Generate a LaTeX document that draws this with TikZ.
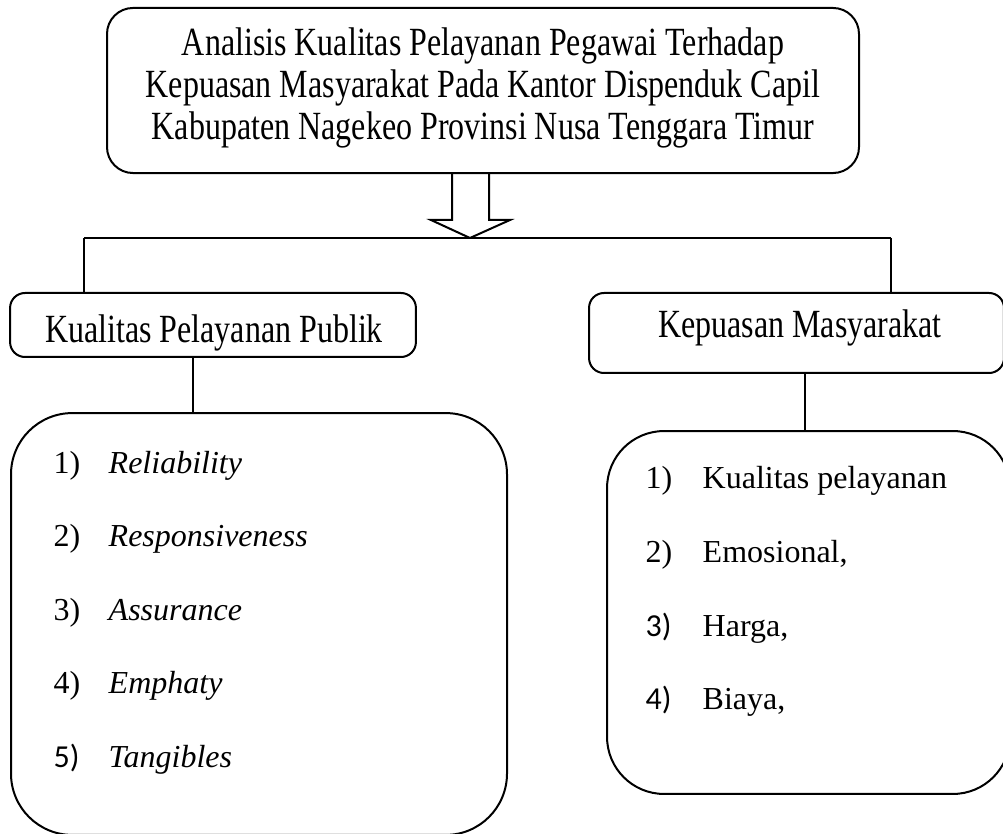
\documentclass[tikz,border=0pt]{standalone}
\usepackage{fontspec}
\setmainfont{Liberation Serif}
\newfontfamily\numfont{Carlito}
\newcommand{\tall}[1]{\scalebox{1}[1.25]{#1}}
\begin{document}
\begin{tikzpicture}[x=0.375pt, y=-0.375pt, font=\fontsize{12}{15.9}\selectfont, line width=0.55pt]
    \tikzstyle{nonode} = []
    \tikzstyle{box_style} = [draw, line width=0.75pt, inner sep=0pt]
    \tikzstyle{item_num} = [anchor=base west, inner sep=0pt]
    \tikzstyle{item_text} = [anchor=base west, inner sep=0pt]

    \useasboundingbox (0,0) rectangle (1003,834);

    % boxes
    \node[box_style, rounded corners=9.75pt, minimum width=282pt, minimum height=61.9pt] (nTop) at (483,90.5) {};
    \node[box_style, rounded corners=5.6pt, minimum width=152.2pt, minimum height=24pt] (nPub) at (213,325) {};
    \node[box_style, rounded corners=5.6pt, minimum width=155.6pt, minimum height=30pt] (nPuas) at (796.5,333) {};
    \node[box_style, rounded corners=23pt, minimum width=186pt, minimum height=158.2pt] (nListA) at (259,624) {};
    \node[box_style, rounded corners=21.4pt, minimum width=151.1pt, minimum height=136.1pt] (nListB) at (808.5,612.5) {};

    % texts
    \node[nonode, align=center, font=\fontsize{12}{15.6}\selectfont] (nTitle) at (483,88) {\tall{Analisis Kualitas Pelayanan Pegawai Terhadap}\\\tall{Kepuasan Masyarakat Pada Kantor Dispenduk Capil}\\\tall{Kabupaten Nagekeo Provinsi Nusa Tenggara Timur}};
    \node[nonode, anchor=base] (tPub) at (214,343) {\tall{Kualitas Pelayanan Publik}};
    \node[nonode, anchor=base] (tPuas) at (800,338) {\tall{Kepuasan Masyarakat}};

    \node[item_num] (nA1) at (53,473) {1)};
    \node[item_num] (nA2) at (53,546.5) {2)};
    \node[item_num] (nA3) at (53,620) {3)};
    \node[item_num] (nA4) at (53,693.5) {4)};
    \node[item_num] (nA5) at (53,767) {\numfont 5)};
    \node[item_text] (tA1) at (108,473) {\itshape Reliability};
    \node[item_text] (tA2) at (108,546.5) {\itshape Responsiveness};
    \node[item_text] (tA3) at (108,620) {\itshape Assurance};
    \node[item_text] (tA4) at (108,693.5) {\itshape Emphaty};
    \node[item_text] (tA5) at (108,767) {\itshape Tangibles};

    \node[item_num] (nB1) at (645,489) {1)};
    \node[item_num] (nB2) at (645,562) {2)};
    \node[item_num] (nB3) at (645,636) {\numfont 3)};
    \node[item_num] (nB4) at (645,709) {\numfont 4)};
    \node[item_text] (tB1) at (702,489) {Kualitas pelayanan};
    \node[item_text] (tB2) at (702,562) {Emosional,};
    \node[item_text] (tB3) at (702,636) {Harga,};
    \node[item_text] (tB4) at (702,709) {Biaya,};

    % block arrow and fork
    \coordinate (cTip) at (470,238);
    \coordinate (cForkL) at (84,238);
    \coordinate (cForkR) at (891,238);
    \coordinate (cDropL) at (193,0);
    \coordinate (cDropR) at (805,0);

    \draw[line width=0.75pt] (cTip) -- ++(-39,-18) -- ++(21,0) -- ++(0,-46.5);
    \draw[line width=0.75pt] (cTip) -- ++(40,-18) -- ++(-21,0) -- ++(0,-46.5);

    \draw (cForkL) -- (cForkR);
    \draw (cForkL) -- (cForkL |- nPub.north);
    \draw (cForkR) -- (cForkR |- nPuas.north);
    \draw (nPub.south -| cDropL) -- (nListA.north -| cDropL);
    \draw (nPuas.south -| cDropR) -- (nListB.north -| cDropR);
\end{tikzpicture}
\end{document}
